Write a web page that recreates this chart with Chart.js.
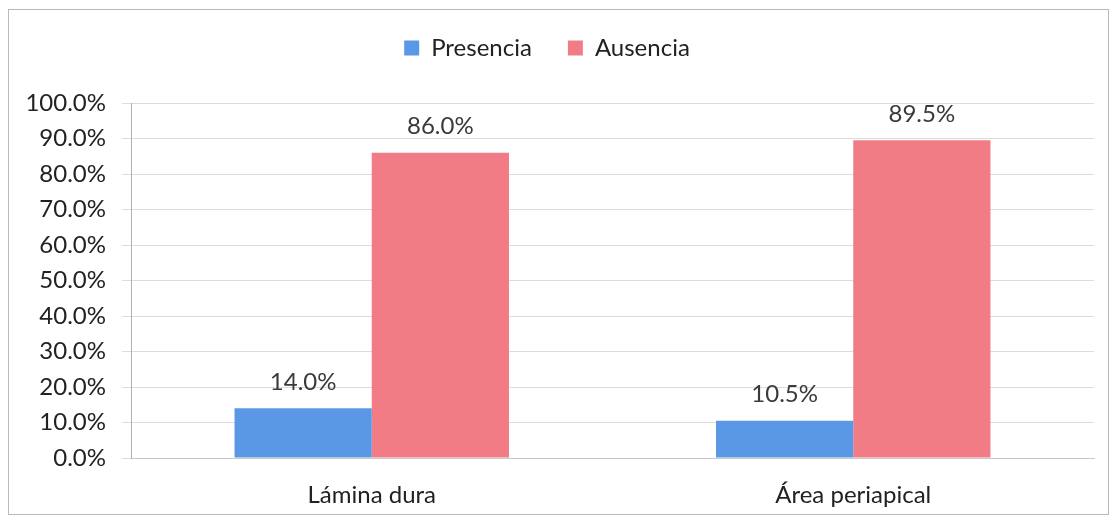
<!DOCTYPE html>
<html>
<head>
<meta charset="utf-8">
<script src="https://cdn.jsdelivr.net/npm/chart.js@4"></script>
<style>
  body { margin: 0; background: #fff; }
  #wrap { position: absolute; left: 0; top: 0; width: 1116px; height: 520px; }
  #frame { position: absolute; left: 8px; top: 9px; width: 1101px; height: 506px; border: 1px solid #b8b8c4; box-sizing: border-box; pointer-events: none; }
</style>
</head>
<body>
<div id="wrap">
  <canvas id="myChart" width="1116" height="520"></canvas>
  <div id="frame"></div>
</div>
<script>
const categories = ['Lámina dura', 'Área periapical'];
const presencia = [14.0, 10.5];
const ausencia = [86.0, 89.5];
const seriesNames = ['Presencia', 'Ausencia'];

const ctx = document.getElementById('myChart').getContext('2d');
const FONT = 'Lato, "Open Sans", sans-serif';

// draws the value above each bar
const valueLabels = {
    id: 'valueLabels',
    afterDatasetsDraw(chart) {
        const c = chart.ctx;
        c.save();
        c.font = '24px ' + FONT;
        c.fillStyle = '#3a3a3a';
        c.textAlign = 'center';
        c.textBaseline = 'middle';
        chart.data.datasets.forEach((ds, i) => {
            chart.getDatasetMeta(i).data.forEach((bar, j) => {
                c.fillText(ds.data[j].toFixed(1) + '%', bar.x, bar.y - 26);
            });
        });
        c.restore();
    }
};

// extra space between legend and plot
const legendGap = {
    id: 'legendGap',
    beforeInit(chart) {
        const fit = chart.legend.fit;
        chart.legend.fit = function () {
            fit.bind(chart.legend)();
            this.height += 33;
        };
    }
};

const myChart = new Chart(ctx, {
    type: 'bar',
    data: {
        labels: categories,
        datasets: [{
            label: seriesNames[0],
            data: presencia,
            backgroundColor: '#5a98e6',
            categoryPercentage: 0.57,
            barPercentage: 1
        }, {
            label: seriesNames[1],
            data: ausencia,
            backgroundColor: '#f27c86',
            categoryPercentage: 0.57,
            barPercentage: 1
        }]
    },
    options: {
        responsive: false,
        animation: false,
        layout: { padding: { left: 0, right: 22, top: 0, bottom: 0 } },
        plugins: {
            legend: {
                position: 'top',
                labels: {
                    font: { family: FONT, size: 24 },
                    color: '#222',
                    boxWidth: 15,
                    boxHeight: 15,
                    padding: 36
                }
            },
            tooltip: { enabled: false }
        },
        scales: {
            x: {
                grid: { display: false },
                border: { color: '#c8c8c8' },
                ticks: { font: { family: FONT, size: 24 }, color: '#222', padding: 15 },
                afterFit: (s) => { s.height = 62; }
            },
            y: {
                min: 0,
                max: 100,
                ticks: {
                    stepSize: 10,
                    font: { family: FONT, size: 24 },
                    color: '#222',
                    padding: 16,
                    callback: (v) => v.toFixed(1) + '%'
                },
                grid: { color: '#dcdcdc', tickLength: 9 },
                border: { color: '#b0b0b0' },
                afterFit: (s) => { s.width = 131; }
            }
        }
    },
    plugins: [valueLabels, legendGap]
});
</script>
</body>
</html>
